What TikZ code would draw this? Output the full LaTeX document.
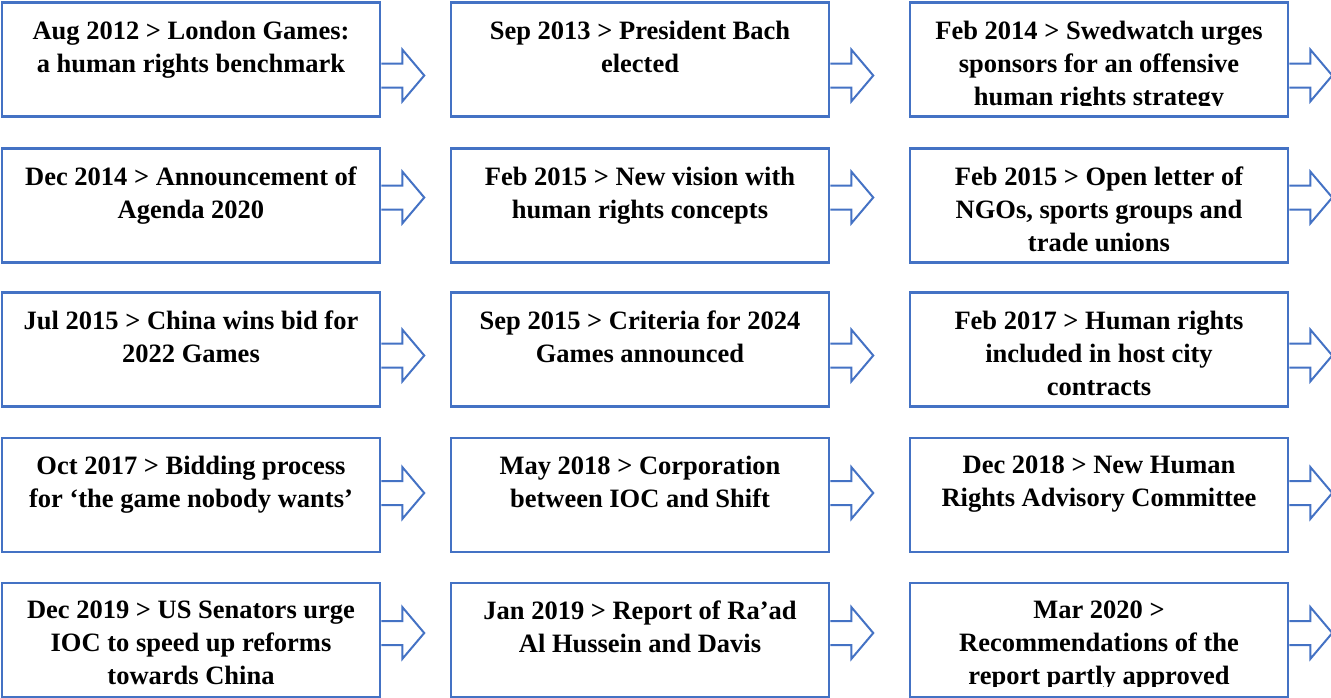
\documentclass[tikz,border=0pt]{standalone}
\usepackage{fontspec}
\setmainfont{Liberation Serif}
\usetikzlibrary{calc}

\definecolor{boxblue}{RGB}{68,114,196}
\tikzset{every picture/.style={line width=0.75pt}}
\tikzset{
  eventbox/.style={draw=boxblue, line width=2.5, minimum width=378, minimum height=114, inner sep=0},
  eventtext/.style={anchor=north, inner sep=0, align=center, font=\bfseries\fontsize{26.5}{33}\selectfont},
  hollowarrow/.style={draw=boxblue, line width=2, line join=miter},
}

% text of a box, cut off a little above its lower border
\newcommand{\eventlabel}[2]{%
  \begin{scope}
    \clip (#1.north west) rectangle ($(#1.south east)+(0,-12)$);
    \node[eventtext] (#1t) at ($(#1.north)+(0,19)$) {#2};
  \end{scope}}
% open block arrow on the right side of a box, #2 = shift of its axis
\newcommand{\eventarrow}[2]{%
  \draw[hollowarrow] ($(#1.east)+(0,#2-12)$) -- ++(21,0) -- ++(0,-14) -- ++(22,26) -- ++(-22,26) -- ++(0,-14) -- ++(-21,0);}

\begin{document}
\begin{tikzpicture}[x=1pt,y=1pt,yscale=-1,xscale=1]
        \useasboundingbox (0,0) rectangle (1331,697);

        % Row 1
        \node[eventbox] (b11) at (191,59.5) {};
        \node[eventbox] (b12) at (640,59.5) {};
        \node[eventbox] (b13) at (1099,59.5) {};
        \eventlabel{b11}{Aug 2012 > London Games:\\a human rights benchmark}
        \eventlabel{b12}{Sep 2013 > President Bach\\elected}
        \eventlabel{b13}{Feb 2014 > Swedwatch urges\\sponsors for an offensive\\human rights strategy}
        \eventarrow{b11}{16}
        \eventarrow{b12}{16}
        \eventarrow{b13}{16}

        % Row 2
        \node[eventbox] (b21) at (191,205.5) {};
        \node[eventbox] (b22) at (640,205.5) {};
        \node[eventbox] (b23) at (1099,205.5) {};
        \eventlabel{b21}{Dec 2014 > Announcement of\\Agenda 2020}
        \eventlabel{b22}{Feb 2015 > New vision with\\human rights concepts}
        \eventlabel{b23}{Feb 2015 > Open letter of\\NGOs, sports groups and\\trade unions}
        \eventarrow{b21}{-8}
        \eventarrow{b22}{-8}
        \eventarrow{b23}{-8}

        % Row 3
        \node[eventbox] (b31) at (191,349.5) {};
        \node[eventbox] (b32) at (640,349.5) {};
        \node[eventbox] (b33) at (1099,349.5) {};
        \eventlabel{b31}{Jul 2015 > China wins bid for\\2022 Games}
        \eventlabel{b32}{Sep 2015 > Criteria for 2024\\Games announced}
        \eventlabel{b33}{Feb 2017 > Human rights\\included in host city\\contracts}
        \eventarrow{b31}{6}
        \eventarrow{b32}{6}
        \eventarrow{b33}{6}

        % Row 4
        \node[eventbox] (b41) at (191,495) {};
        \node[eventbox] (b42) at (640,495) {};
        \node[eventbox] (b43) at (1099,495) {};
        \eventlabel{b41}{Oct 2017 > Bidding process\\for ‘the game nobody wants’}
        \eventlabel{b42}{May 2018 > Corporation\\between IOC and Shift}
        \eventlabel{b43}{Dec 2018 > New Human\\Rights Advisory Committee}
        \eventarrow{b41}{-2}
        \eventarrow{b42}{-2}
        \eventarrow{b43}{-2}

        % Row 5
        \node[eventbox] (b51) at (191,640) {};
        \node[eventbox] (b52) at (640,640) {};
        \node[eventbox] (b53) at (1099,640) {};
        \eventlabel{b51}{Dec 2019 > US Senators urge\\IOC to speed up reforms\\towards China}
        \eventlabel{b52}{Jan 2019 > Report of Ra’ad\\Al Hussein and Davis}
        \eventlabel{b53}{Mar 2020 >\\Recommendations of the\\report partly approved}
        \eventarrow{b51}{-7}
        \eventarrow{b52}{-7}
        \eventarrow{b53}{-7}
\end{tikzpicture}
\end{document}
